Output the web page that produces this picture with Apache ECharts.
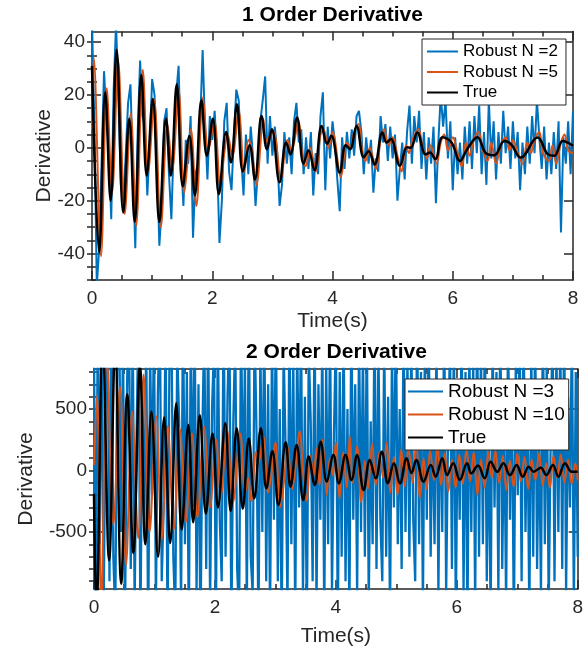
<!DOCTYPE html>
<html><head><meta charset="utf-8">
<script src="https://cdn.jsdelivr.net/npm/echarts@6/dist/echarts.min.js"></script>
<style>html,body{margin:0;padding:0;background:#fff}#c{width:586px;height:649px}</style>
</head><body><div id="c"></div>
<script>
// ---------- data ----------
const topStep = 0.04;   // sampling interval (s) of the 1st-order Robust N=2 trace
const botStep = 0.032;  // sampling interval (s) of the 2nd-order Robust N=3 trace
const xTicks = [0, 2, 4, 6, 8];
const topYTicks = [-40, -20, 0, 20, 40];
const topYMinor = [-50,-45,-40,-35,-30,-25,-20,-15,-10,-5,0,5,10,15,20,25,30,35,40];
const botYTicks = [-500, 0, 500];
const botYMinor = [-900,-800,-700,-600,-500,-400,-300,-200,-100,0,100,200,300,400,500,600,700,800];

// 1st order: Robust N=2 (blue)
const topBlue = [48,8,-52,-38,-5,29,12,-2,-27,22,
47,18,-14,-20,-3,17,24,-8,-38,6,
33,12,8,-18,1,26,20,-5,-37,-22,
10,15,-10,-27,2,20,31,-3,-22,3,
-6,12,-34,-10,-6,10,37,8,-12,12,
3,14,-4,-36,-20,10,17,-9,-16,4,
22,18,-3,-18,5,-10,8,-4,-22,-8,
10,18,27,-6,12,-3,8,-2,-22,-14,
6,-6,4,-10,10,17,2,7,-10,4,
-8,6,-18,-2,-10,12,21,-16,8,-4,
10,2,-12,-24,4,-8,6,-4,7,-3,
12,14,6,-10,4,-6,3,-17,-4,-9,
12,2,9,-5,8,-4,5,-20,-8,2,
-12,6,16,-6,12,2,14,-8,6,-12,
4,-6,8,-21,2,20,8,18,-4,10,
-16,4,-10,2,-12,8,-6,10,-8,12,
-2,16,-10,6,-14,18,-4,10,-12,6,
-6,14,-2,8,-8,10,-4,6,-16,2,
-10,8,-6,12,-2,18,4,-8,8,-12,
2,-10,6,-8,10,-32,4,-6,10,-10,
14];

// 1st order: Robust N=5 (orange)
const topOrangeT = [0,0.03,0.15,0.245,0.335,0.435,0.545,0.645,0.735,0.845,
0.935,1.035,1.145,1.255,1.335,1.44,1.535,1.645,1.735,1.845,
1.935,2.035,2.135,2.2,2.255,2.335,2.44,2.53,2.6,2.645,
2.735,2.85,2.9,2.94,3.02,3.14,3.25,3.32,3.43,3.5,
3.55,3.63,3.72,3.8,3.85,3.93,4.0,4.14,4.24,4.3,
4.35,4.43,4.5,4.55,4.62,4.72,4.8,4.86,4.93,5.0,
5.08,5.15,5.22,5.27,5.33,5.43,5.5,5.57,5.63,5.73,
5.8,5.86,5.92,6.0,6.08,6.15,6.22,6.28,6.35,6.43,
6.5,6.58,6.64,6.72,6.8,6.88,6.94,7.0,7.08,7.16,
7.24,7.3,7.36,7.44,7.5,7.6,7.66,7.72,7.8,7.86,
7.92,8.0];
const topOrangeV = [7,34,-41,22.5,-17,33,-25,13,-29.5,29.5,
-9,18,-30,9,-8,22,-17,7,-22,19,
-1,10,-15,-2,5,-3,14,-9,3,1,
-14,11,2,4,6,-12,3,-1,10,-3,
-7,0,-9,5,7,0,6,-11,2,0,
5,9,-2,-5,0,-8,3,7,1,4,
-3,-9,1,-2,3,7,0,-4,1,-6,
2,5,-1,4,-2,-7,2,-3,3,6,
-1,-5,2,-6,1,4,-1,3,-2,-6,
2,-2,3,6,-2,-5,1,-6,2,5,
-1,-2];

// 1st order: True (black)
const topTrueT = [0,0.12,0.22,0.31,0.41,0.52,0.62,0.71,0.82,0.91,
1.01,1.12,1.23,1.31,1.41,1.51,1.62,1.71,1.82,1.91,
2.01,2.11,2.23,2.31,2.41,2.51,2.62,2.71,2.82,2.91,
2.99,3.12,3.23,3.3,3.41,3.52,3.6,3.7,3.82,3.91,
3.98,4.12,4.22,4.29,4.4,4.52,4.6,4.7,4.83,4.9,
4.97,5.12,5.24,5.3,5.41,5.55,5.62,5.71,5.83,5.98,
6.12,6.24,6.41,6.55,6.69,6.86,6.97,7.13,7.41,7.58,
7.69,7.83,8.0];
const topTrueV = [31,-39.5,21,-20,37,-24.5,11,-28,27.5,-10.5,
18.5,-28,11,-10.5,24,-14.5,4.5,-18,18,-3,
11,-17.5,6,-5.5,16.5,-9,1,-12,12,-0.5,
7,-13,2,-2.5,11.5,-6,-1,-8.5,8.3,1.5,
4.6,-9.3,1,-0.5,8.3,-3.6,-1.3,-6.3,5.8,2,
3.3,-6.8,0.2,0,5.8,-2.5,-1.8,-4.3,4,2,
-5,-0.5,4,-2,-2.8,2.6,1.4,-3.7,3.9,-2.4,
-3,2.6,0.8];

// 2nd order: Robust N=3 (blue)
const botBlue = [1000,-1300,1400,-600,1200,-1100,500,1300,-900,1400,
-700,-1200,900,1300,-500,1100,-1300,600,1500,-800,
1200,-1100,300,1300,-1300,700,-500,1100,-1400,1000,
-200,1200,-1100,600,1400,-900,-300,1200,-1300,900,
1300,-700,-1200,1000,400,-1100,1400,-600,800,-1300,
1100,-300,1300,-1000,700,-1400,300,1200,-800,1300,
-1100,500,1000,-1300,1200,-400,-900,1400,-700,600,
1200,-1300,400,1100,-800,-1200,1300,-300,900,-1100,
1400,-700,-1000,1200,300,-1300,1000,-500,1300,-900,
700,-1200,1100,-400,1300,-900,500,-1300,1000,200,
-1100,1300,-600,900,-1200,1100,-300,1200,-1000,600,
-1300,1000,400,-900,1300,-1100,700,-400,1100,-1200,
900,-600,1200,-1000,300,1100,-1300,800,-700,1200,
-900,500,-1200,1300,-400,700,-1000,1100,-500,1000,
-700,1200,-1100,400,-600,1300,-800,1000,-400,-900,
1100,-700,600,-1200,1000,-300,1300,-600,500,-800,
1200,-500,900,-700,1100,-400,-900,1300,-600,800,
-1100,1000,-400,1200,-700,500,-600,1100,-1000,700,
-500,1300,-1000,300,1000,-800,1100,-1200,600,-400,
1200,-1000,800,-1300,1000,-500,900,-1100,1300,-700,
1000,-600,1200,-900,400,-1200,1100,-300,800,-1000,
1300,-800,500,-1100,1200,-400,700,-1300,900,-200,
1100,-900,1300,-500,600,-1200,1000,-700,1200,-800,
400,-1000,1300,-600,900,-1100,200,1200,-900,1000,
-500,1100,-800,1300,-1000,600,-300,1200,-1100,800,
-700];

// 2nd order: Robust N=10 (orange)
const botOrangeT = [0,0.05,0.12,0.21,0.32,0.43,0.53,0.63,0.73,0.82,
0.92,1.03,1.12,1.22,1.32,1.42,1.52,1.62,1.71,1.82,
1.92,2.02,2.1,2.2,2.3,2.42,2.5,2.55,2.6,2.68,
2.72,2.8,2.88,2.93,3.0,3.08,3.14,3.2,3.28,3.33,
3.4,3.47,3.52,3.58,3.63,3.68,3.73,3.78,3.85,3.9,
3.95,4.0,4.06,4.12,4.18,4.23,4.28,4.35,4.42,4.48,
4.53,4.6,4.66,4.72,4.78,4.84,4.9,4.96,5.02,5.08,
5.14,5.2,5.27,5.33,5.39,5.45,5.5,5.56,5.62,5.68,
5.74,5.8,5.86,5.92,5.98,6.04,6.1,6.16,6.22,6.28,
6.34,6.4,6.46,6.52,6.58,6.64,6.7,6.76,6.82,6.88,
6.94,7.0,7.06,7.12,7.18,7.24,7.3,7.36,7.42,7.48,
7.54,7.6,7.66,7.72,7.78,7.84,7.9,7.96,8.0];
const botOrangeV = [45,614,-1100,950,-440,680,-770,480,-550,780,
-500,440,-560,360,-480,340,-420,300,-380,360,
-300,250,-200,330,-260,300,-180,-60,-250,150,
60,280,-180,-50,230,-300,-100,200,-150,20,
320,-80,-250,120,-50,180,-120,250,-200,100,
-40,230,-230,150,-140,280,-100,200,-260,80,
-150,220,-120,150,-60,230,-180,110,-200,170,
-130,180,-100,250,-220,100,-150,160,-80,200,
-120,140,-170,90,-140,130,-110,180,-90,150,
-200,90,-140,150,-60,160,-100,120,-160,80,
-130,140,-90,110,-150,90,-80,140,-120,60,
-140,120,-60,130,-100,90,-110,60,-80];

// 2nd order: True (black)
const botTrueT = [0,0.04,0.145,0.25,0.35,0.45,0.55,0.65,0.76,0.85,
0.95,1.06,1.16,1.26,1.36,1.45,1.56,1.64,1.75,1.85,
1.96,2.05,2.17,2.26,2.36,2.46,2.56,2.65,2.76,2.85,
2.95,3.05,3.17,3.25,3.35,3.46,3.55,3.65,3.75,3.85,
3.96,4.05,4.16,4.26,4.35,4.46,4.56,4.66,4.76,4.86,
4.96,5.06,5.17,5.25,5.33,5.45,5.57,5.65,5.76,5.84,
5.94,6.05,6.17,6.24,6.35,6.46,6.56,6.67,6.77,6.88,
6.99,7.09,7.19,7.27,7.39,7.48,7.59,7.68,7.79,7.9,
8.0];
const botTrueV = [-190,-1150,1050,-730,1000,-920,620,-670,850,-600,
480,-700,430,-590,546,-480,370,-420,450,-350,
300,-300,384,-330,343,-310,260,-226,343,-145,
159,-280,229,-131,207,-240,113,-118,234,-91,
126,-104,126,-77,126,-159,85,-63,153,-104,
58,-104,99,-20,85,-91,45,-50,99,-37,
58,-77,58,-23,40,-63,72,-10,58,-37,
45,-50,31,-10,23,-37,45,-50,58,-10,
-10];

// ---------- chart ----------
const FONT = '"Liberation Sans", Arial, Helvetica, sans-serif';
const AX = '#262626';
const C_BLUE = '#0072BD', C_ORANGE = '#D95319', C_BLACK = '#000000';

const uniform = (vals, st) => vals.map((v, i) => [Math.round(i * st * 1000) / 1000, v]);
const pairs = (ts, vs) => ts.map((t, i) => [t, vs[i]]);

function xAxisPair(g, nameGap) {
  const base = {
    gridIndex: g, type: 'value', min: 0, max: 8, interval: 2,
    axisLine: { show: true, onZero: false, lineStyle: { color: AX, width: 1.5 } },
    axisTick: { show: true, inside: true, length: 9, lineStyle: { color: AX, width: 1.5 } },
    minorTick: { show: true, splitNumber: 4, length: 5, lineStyle: { color: AX, width: 1.5 } },
    splitLine: { show: false }, minorSplitLine: { show: false }
  };
  return [
    Object.assign({}, base, {
      position: 'bottom',
      axisLabel: { show: true, color: AX, fontSize: 19, fontFamily: FONT, margin: 9,
        customValues: xTicks },
      name: 'Time(s)', nameLocation: 'middle', nameGap: nameGap, nameMoveOverlap: false,
      nameTextStyle: { color: AX, fontSize: 21, fontFamily: FONT }
    }),
    Object.assign({}, base, { position: 'top', axisLabel: { show: false } })
  ];
}

function yAxisSet(g, min, max, ticks, minor, nameGap) {
  const common = { gridIndex: g, type: 'value', min: min, max: max,
    splitLine: { show: false }, minorTick: { show: false } };
  const line = { show: true, onZero: false, lineStyle: { color: AX, width: 1.5 } };
  const maj = { show: true, inside: true, length: 9, customValues: ticks, lineStyle: { color: AX, width: 1.5 } };
  const mnr = { show: true, inside: true, length: 5, customValues: minor, lineStyle: { color: AX, width: 1.5 } };
  return [
    Object.assign({}, common, { position: 'left', axisLine: line, axisTick: maj,
      axisLabel: { show: true, customValues: ticks, color: AX, fontSize: 19, fontFamily: FONT, margin: 7 },
      name: 'Derivative', nameLocation: 'middle', nameGap: nameGap, nameRotate: 90, nameMoveOverlap: false,
      nameTextStyle: { color: AX, fontSize: 21, fontFamily: FONT } }),
    Object.assign({}, common, { position: 'left', axisLine: { show: false }, axisTick: mnr, axisLabel: { show: false } }),
    Object.assign({}, common, { position: 'right', axisLine: line, axisTick: maj, axisLabel: { show: false } }),
    Object.assign({}, common, { position: 'right', axisLine: { show: false }, axisTick: mnr, axisLabel: { show: false } })
  ];
}

function lineSeries(name, xi, yi, data, color, width, smooth, z) {
  return { name: name, type: 'line', xAxisIndex: xi, yAxisIndex: yi, data: data,
    color: color, showSymbol: false, symbol: 'none', smooth: smooth, z: z,
    lineStyle: { color: color, width: width }, clip: true };
}

function legendBox(names, left, top, fontSize, itemWidth, itemGap, padding) {
  return { data: names, orient: 'vertical', left: left, top: top, padding: padding,
    itemGap: itemGap, itemWidth: itemWidth, itemHeight: 2, icon: 'rect',
    backgroundColor: '#ffffff', borderColor: AX, borderWidth: 1, borderRadius: 0,
    selectedMode: false, textStyle: { fontSize: fontSize, color: '#000', fontFamily: FONT } };
}

const chart = echarts.init(document.getElementById('c'), null, { renderer: 'canvas' });
chart.setOption({
  animation: false,
  backgroundColor: '#ffffff',
  grid: [
    { left: 92, top: 31.5, width: 481, height: 248.5 },
    { left: 94, top: 369, width: 485, height: 220 }
  ],
  xAxis: [].concat(xAxisPair(0, 31), xAxisPair(1, 37)),
  yAxis: [].concat(yAxisSet(0, -50, 44, topYTicks, topYMinor, 37),
                   yAxisSet(1, -963, 825, botYTicks, botYMinor, 57)),
  legend: [
    legendBox(['Robust N =2', 'Robust N =5', 'True'], 422, 39, 17, 31, 3.5, [4, 8, 4, 5]),
    legendBox(['Robust N =3', 'Robust N =10', 'True'], 405, 379, 19, 35, 4, [3, 4, 3, 3])
  ],
  graphic: [
    { type: 'text', x: 332.5, y: 15.5, style: { text: '1 Order Derivative', align: 'center', verticalAlign: 'middle',
      font: 'bold 21px ' + FONT, fill: '#000' } },
    { type: 'text', x: 336.5, y: 352, style: { text: '2 Order Derivative', align: 'center', verticalAlign: 'middle',
      font: 'bold 21px ' + FONT, fill: '#000' } }
  ],
  series: [
    lineSeries('Robust N =2', 0, 0, uniform(topBlue, topStep), C_BLUE, 2, false, 2),
    lineSeries('Robust N =5', 0, 0, pairs(topOrangeT, topOrangeV), C_ORANGE, 2, 0.35, 3),
    lineSeries('True', 0, 0, pairs(topTrueT, topTrueV), C_BLACK, 2.5, 0.4, 4),
    lineSeries('Robust N =3', 2, 4, uniform(botBlue, botStep), C_BLUE, 2.3, false, 2),
    lineSeries('Robust N =10', 2, 4, pairs(botOrangeT, botOrangeV), C_ORANGE, 2, 0.35, 3),
    lineSeries('True', 2, 4, pairs(botTrueT, botTrueV), C_BLACK, 2.5, 0.4, 4)
  ]
});
</script></body></html>
